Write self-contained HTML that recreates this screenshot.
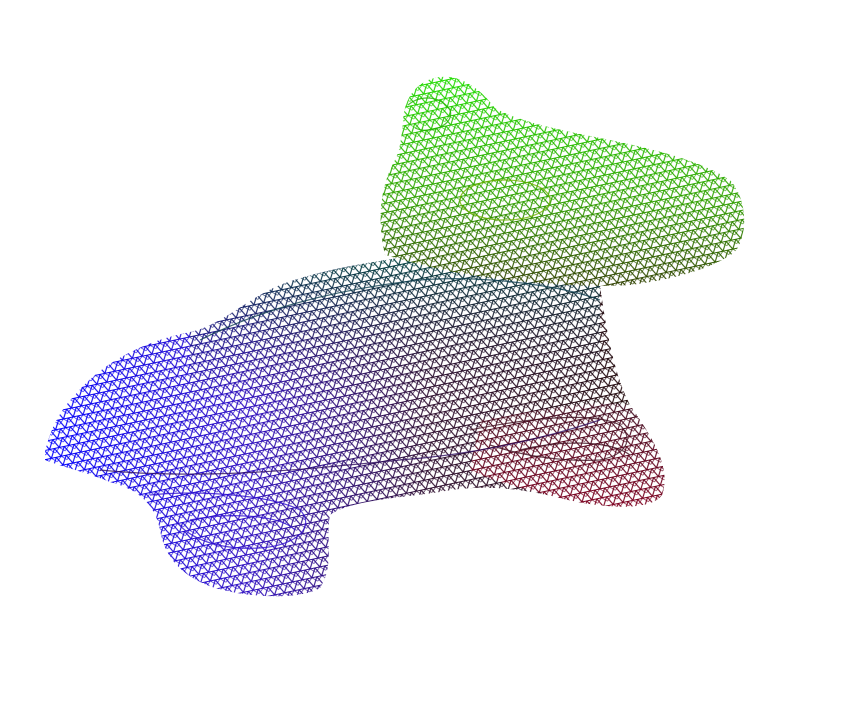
<!DOCTYPE html>
<html><head><meta charset="utf-8"><style>
html,body{margin:0;padding:0;background:#fff;width:857px;height:701px;overflow:hidden}
</style></head><body>
<svg width="857" height="701" viewBox="0 0 857 701">
<defs>
<pattern id="wire" width="10" height="9" patternUnits="userSpaceOnUse" patternTransform="rotate(-12)">
<rect width="10" height="9" fill="black"/>
<path d="M0 0 L10 0 M0 0 L5 9 M10 0 L5 9 M0 9 L10 9" stroke="white" stroke-width="1.1" fill="none"/>
<path d="M5 0 L0 4.5 M5 0 L10 4.5" stroke="white" stroke-width="0.6" fill="none"/>
</pattern>
<mask id="m"><rect width="857" height="701" fill="url(#wire)"/></mask>
<linearGradient id="gBody" x1="40" y1="0" x2="640" y2="0" gradientUnits="userSpaceOnUse">
<stop offset="0" stop-color="#0000ff"/><stop offset="0.35" stop-color="#3010c0"/>
<stop offset="0.65" stop-color="#301030"/><stop offset="1" stop-color="#200808"/>
</linearGradient>
<linearGradient id="gTop" x1="0" y1="260" x2="0" y2="400" gradientUnits="userSpaceOnUse">
<stop offset="0" stop-color="#004040"/><stop offset="1" stop-color="#200830" stop-opacity="0"/>
</linearGradient>
<linearGradient id="gHead" x1="0" y1="75" x2="0" y2="285" gradientUnits="userSpaceOnUse">
<stop offset="0" stop-color="#20dd00"/><stop offset="0.6" stop-color="#30a000"/><stop offset="1" stop-color="#304000"/>
</linearGradient>
<linearGradient id="gLeg" x1="0" y1="380" x2="0" y2="510" gradientUnits="userSpaceOnUse">
<stop offset="0" stop-color="#301020"/><stop offset="1" stop-color="#800020"/>
</linearGradient>
</defs>
<g mask="url(#m)">
<path fill="url(#gBody)" d="M45 452 C50 430 60 410 75 395 C100 365 140 342 190 332 C220 326 245 300 280 285 C320 270 370 262 420 255 L600 285 C605 320 612 370 630 405 C650 435 672 465 662 495 C650 512 600 508 560 498 C520 488 480 484 440 492 C400 498 350 500 330 515 C325 540 335 565 320 588 C300 600 250 598 215 588 C185 578 165 560 160 530 C155 505 140 490 110 482 C85 472 60 466 45 460 Z"/>
<path fill="url(#gTop)" d="M190 332 C220 326 245 300 280 285 C320 270 370 262 420 255 L600 285 L600 400 L190 400 Z"/>
<path fill="url(#gLeg)" d="M480 420 C540 410 590 400 630 405 C650 435 672 465 662 495 C650 512 600 508 560 498 C520 488 490 480 470 470 Z"/>
<path fill="url(#gHead)" d="M385 255 C378 225 378 190 395 160 C405 140 400 115 408 100 C415 85 430 75 450 77 C470 80 485 95 495 108 C520 122 560 130 600 138 C650 148 700 160 730 180 C748 200 748 235 735 252 C710 270 670 280 630 285 C580 288 520 282 470 275 C440 270 410 262 385 255 Z"/>
</g>
<g fill="none" stroke-width="1.2" opacity="0.8">
<path stroke="#3010d0" d="M150 495 C200 490 270 495 300 510 C315 525 300 545 260 548 C220 550 190 540 175 520"/>
<path stroke="#3010d0" d="M190 520 C230 512 280 515 295 530"/>
<path stroke="#401020" d="M470 430 C520 420 590 410 620 425 C635 440 625 455 600 460 C560 462 520 455 490 445"/>
<path stroke="#401020" d="M520 450 C560 440 610 440 630 455"/>
<path stroke="#20b000" d="M408 105 C420 95 440 95 450 110 C455 125 430 135 415 128"/>
<ellipse stroke="#70b000" cx="505" cy="200" rx="45" ry="20"/>
<path stroke="#104050" d="M200 340 C260 310 330 290 420 280 C480 275 560 285 600 300"/>
<path stroke="#301060" d="M100 470 C200 480 300 470 400 460 C470 455 540 440 600 420"/>
</g>
</svg>
</body></html>
